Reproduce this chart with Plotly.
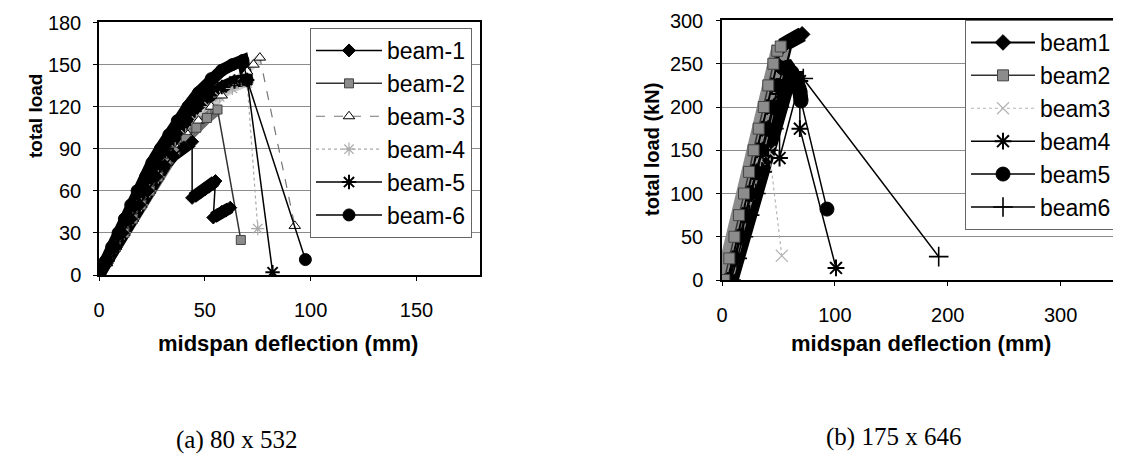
import plotly.graph_objects as go

# ---------------- (a) 80 x 532 ----------------
a_names = ["beam-1", "beam-2", "beam-3", "beam-4", "beam-5", "beam-6"]
a1_x = [0, 4, 8, 11, 15, 19, 23, 27, 31, 35, 40, 44, 44, 46, 48, 50, 52, 54, 55, 54, 56, 58, 60, 62]
a1_y = [0, 10, 20, 30, 40, 50, 60, 70, 78, 85, 91, 95, 55, 57, 59, 61, 63, 65, 67, 41, 43, 45, 46, 48]
a2_x = [0, 4, 8, 12, 16, 20, 24, 28, 32, 36, 41, 46, 51, 56, 67]
a2_y = [0, 10, 20, 30, 40, 50, 60, 70, 80, 88, 97, 105, 112, 118, 25]
a3_x = [0, 4, 8, 12, 16, 20, 24, 28, 32, 37, 42, 47, 53, 58, 64, 70, 73, 76, 92.5]
a3_y = [0, 10, 20, 30, 40, 50, 60, 70, 80, 90, 100, 110, 120, 128, 137, 145, 150, 155, 35]
a4_x = [0, 4, 8, 12, 16, 20, 24, 28, 32, 36, 41, 46, 52, 57, 63, 70, 75]
a4_y = [0, 10, 20, 30, 40, 50, 60, 70, 80, 90, 100, 110, 120, 127, 133, 137, 33]
a5_x = [0, 4, 7, 10, 14, 17, 21, 24, 28, 32, 36, 41, 46, 52, 58, 64, 70, 82]
a5_y = [0, 10, 20, 30, 40, 50, 60, 70, 80, 90, 100, 110, 120, 128, 134, 138, 139, 2]
a6_x = [0, 3, 6, 9, 12, 15, 18, 22, 25, 29, 33, 37, 42, 47, 53, 58, 63, 68, 70, 97.5]
a6_y = [0, 10, 20, 30, 40, 50, 60, 70, 80, 90, 100, 110, 120, 130, 140, 146, 150, 153, 139, 11]
a_xticks = [0, 50, 100, 150]
a_yticks = [0, 30, 60, 90, 120, 150, 180]

# ---------------- (b) 175 x 646 ----------------
b_names = ["beam1", "beam2", "beam3", "beam4", "beam5", "beam6"]
b1_x = [5, 9.5, 14, 18, 22.5, 27, 31, 35.5, 40, 44, 48.5, 52, 56, 60, 64, 68, 71]
b1_y = [0, 25, 50, 75, 100, 125, 150, 175, 200, 225, 250, 268, 273, 276, 279, 282, 284]
b2_x = [2, 6.5, 11, 15, 19.5, 24, 28, 32.5, 37, 41, 45.5, 49, 52]
b2_y = [0, 25, 50, 75, 100, 125, 150, 175, 200, 225, 250, 265, 270]
b3_x = [4, 9, 14, 19, 24, 29, 33, 37, 42, 53]
b3_y = [0, 25, 50, 75, 100, 125, 140, 146, 148, 28]
b4_x = [7, 12, 16.5, 21.5, 26, 31, 36, 41, 46, 51, 51, 69, 69, 101]
b4_y = [0, 25, 50, 75, 100, 125, 150, 175, 200, 215, 141, 230, 175, 14]
b5_x = [6, 11, 15.5, 20.5, 25, 30, 35, 40, 45, 49.5, 54, 58, 62, 66, 69, 70, 93]
b5_y = [0, 25, 50, 75, 100, 125, 150, 175, 200, 225, 245, 246, 240, 230, 218, 207, 82]
b6_x = [8, 13.5, 19, 24.5, 30, 35.5, 41, 46, 51, 56, 61, 66, 72, 192]
b6_y = [0, 25, 50, 75, 100, 125, 150, 175, 200, 218, 228, 233, 233, 27]
b_xticks = [0, 100, 200, 300]
b_yticks = [0, 50, 100, 150, 200, 250, 300]

# page coordinates (window 1121x467); the html body adds an 8px offset
W, H = 1121, 467
OFF = 8
FW, FH = W - OFF, H - OFF
# plot-area pixel boxes in window coords (left, right, top, bottom)
A_BOX = (99, 480, 22, 275)
B_BOX = (722, 1117, 20, 280)
A_RANGE = ([0, 180], [0, 180.4])
B_RANGE = ([0, 350], [0, 300.6])


def px(x):
    return (x - OFF) / FW


def py(y):
    return 1 - (y - OFF) / FH


def dense_path(xs, ys, box, rng, thr):
    """Break the path where consecutive points are far apart (sparse drops)."""
    sx = (box[1] - box[0]) / (rng[0][1] - rng[0][0])
    sy = (box[3] - box[2]) / (rng[1][1] - rng[1][0])
    ox, oy = [xs[0]], [ys[0]]
    for i in range(1, len(xs)):
        d = ((xs[i] - xs[i - 1]) * sx) ** 2 + ((ys[i] - ys[i - 1]) * sy) ** 2
        if d ** 0.5 > thr:
            ox.append(None)
            oy.append(None)
        ox.append(xs[i])
        oy.append(ys[i])
    return ox, oy


fig = go.Figure()

# styles: (marker symbol, marker color, marker line color, marker size, marker line width,
#          line color, line dash, line width, band color, band width)
a_style = [
    ("diamond", "black", "black", 10, 1, "black", "solid", 1.5, "black", 12),
    ("square", "#8c8c8c", "#444444", 9, 1, "#333333", "solid", 1.5, "#6e6e6e", 11),
    ("triangle-up", "white", "black", 10, 1, "#777777", "dash", 1.2, "#d4d4d4", 8),
    ("asterisk-open", "#aaaaaa", "#aaaaaa", 11, 1.2, "#aaaaaa", "dot", 1.2, "#c8c8c8", 8),
    ("asterisk-open", "black", "black", 12, 2, "black", "solid", 1.5, "black", 12),
    ("circle", "black", "black", 12, 1, "black", "solid", 1.5, "black", 12),
]
b_style = [
    ("diamond", "black", "black", 12, 1, "black", "solid", 2, "black", 15),
    ("square", "#8c8c8c", "#444444", 11, 1, "#333333", "solid", 1.5, "#8c8c8c", 18),
    ("x-thin-open", "#b5b5b5", "#b5b5b5", 12, 1.2, "#b5b5b5", "dot", 1.2, "#cccccc", 6),
    ("asterisk-open", "black", "black", 14, 2, "black", "solid", 1.5, "black", 15),
    ("circle", "black", "black", 14, 1, "black", "solid", 1.5, "black", 15),
    ("cross-thin-open", "black", "black", 14, 1.6, "black", "solid", 1.5, "black", 15),
]

a_data = [(a1_x, a1_y), (a2_x, a2_y), (a3_x, a3_y), (a4_x, a4_y), (a5_x, a5_y), (a6_x, a6_y)]
b_data = [(b1_x, b1_y), (b2_x, b2_y), (b3_x, b3_y), (b4_x, b4_y), (b5_x, b5_y), (b6_x, b6_y)]


def add_chart(names, data, styles, box, rng, thr, xa, ya, legend, band_order, mark_order):
    # thick bands (dense measured portions)
    for i in band_order:
        xs, ys = data[i]
        st = styles[i]
        bx, by = dense_path(xs, ys, box, rng, thr)
        fig.add_trace(go.Scatter(x=bx, y=by, mode="lines", xaxis=xa, yaxis=ya,
                                 line=dict(color=st[8], width=st[9]),
                                 showlegend=False, hoverinfo="skip",
                                 legendgroup=legend + names[i], legend=legend))
    for i in mark_order:
        xs, ys = data[i]
        st = styles[i]
        fig.add_trace(go.Scatter(
            x=xs, y=ys, mode="lines+markers", name=names[i], xaxis=xa, yaxis=ya,
            legend=legend, legendgroup=legend + names[i], legendrank=i + 1,
            connectgaps=False,
            marker=dict(symbol=st[0], color=st[1], size=st[3],
                        line=dict(color=st[2], width=st[4])),
            line=dict(color=st[5], dash=st[6], width=st[7])))


add_chart(a_names, a_data, a_style, A_BOX, A_RANGE, 25, "x", "y", "legend",
          [2, 3, 1, 4, 0, 5], [3, 2, 1, 4, 0, 5])
add_chart(b_names, b_data, b_style, B_BOX, B_RANGE, 30, "x2", "y2", "legend2",
          [2, 0, 3, 4, 5, 1], [2, 0, 3, 4, 5, 1])

FONT = "Liberation Sans, Arial, sans-serif"


def dom_x(box):
    return [px(box[0]), min(1.0, px(box[1]))]


def dom_y(box):
    return [py(box[3]), py(box[2])]


axis_common = dict(showline=True, linecolor="black", linewidth=1.5, mirror=True,
                   ticks="outside", ticklen=4, tickcolor="black", zeroline=False,
                   automargin=False, ticklabeloverflow="allow",
                   tickfont=dict(family=FONT, size=20, color="black"))

fig.update_layout(
    width=FW, height=FH, margin=dict(l=0, r=0, t=0, b=0, autoexpand=False),
    paper_bgcolor="white", plot_bgcolor="white",
    font=dict(family=FONT, color="black"),
    xaxis=dict(domain=dom_x(A_BOX), range=A_RANGE[0], tickvals=a_xticks,
               showgrid=False, anchor="y", ticklabelstandoff=12, **axis_common),
    yaxis=dict(domain=dom_y(A_BOX), range=A_RANGE[1], tickvals=a_yticks, showgrid=True,
               gridcolor="#8c8c8c", gridwidth=1, anchor="x", ticklabelstandoff=8,
               **axis_common),
    xaxis2=dict(domain=dom_x(B_BOX), range=B_RANGE[0], tickvals=b_xticks,
                showgrid=False, anchor="y2", ticklabelstandoff=12, **axis_common),
    yaxis2=dict(domain=dom_y(B_BOX), range=B_RANGE[1], tickvals=b_yticks, showgrid=True,
                gridcolor="#8c8c8c", gridwidth=1, anchor="x2", ticklabelstandoff=9,
                **axis_common),
    legend=dict(x=px(310), y=py(28), xanchor="left", yanchor="top",
                bgcolor="white", bordercolor="#666666", borderwidth=1,
                font=dict(family=FONT, size=23, color="black"),
                itemwidth=66, tracegroupgap=20, traceorder="normal"),
    legend2=dict(x=px(965), y=py(20), xanchor="left", yanchor="top",
                 bgcolor="white", bordercolor="#666666", borderwidth=1,
                 font=dict(family=FONT, size=23, color="black"),
                 itemwidth=64, tracegroupgap=14, traceorder="normal"),
)

ann = [
    dict(text="<b>total load</b>", x=35, y=116, textangle=-90, size=19),
    dict(text="<b>total load (kN)</b>", x=652, y=150, textangle=-90, size=20),
    dict(text="<b>midspan deflection (mm)</b>", x=288, y=343, textangle=0, size=22),
    dict(text="<b>midspan deflection (mm)</b>", x=921, y=343, textangle=0, size=22),
]
for a in ann:
    fig.add_annotation(text=a["text"], x=px(a["x"]), y=py(a["y"]), xref="paper", yref="paper",
                       xanchor="center", yanchor="middle", showarrow=False,
                       textangle=a["textangle"],
                       font=dict(family=FONT, size=a["size"], color="black"))

SERIF = "Liberation Serif, Times New Roman, serif"
fig.add_annotation(text="(a) 80 x 532", x=px(237), y=py(440), xref="paper", yref="paper",
                   showarrow=False, xanchor="center", yanchor="middle",
                   font=dict(family=SERIF, size=25, color="black"))
fig.add_annotation(text="(b) 175 x 646", x=px(893), y=py(437), xref="paper", yref="paper",
                   showarrow=False, xanchor="center", yanchor="middle",
                   font=dict(family=SERIF, size=25, color="black"))

fig.write_html("out.html")
